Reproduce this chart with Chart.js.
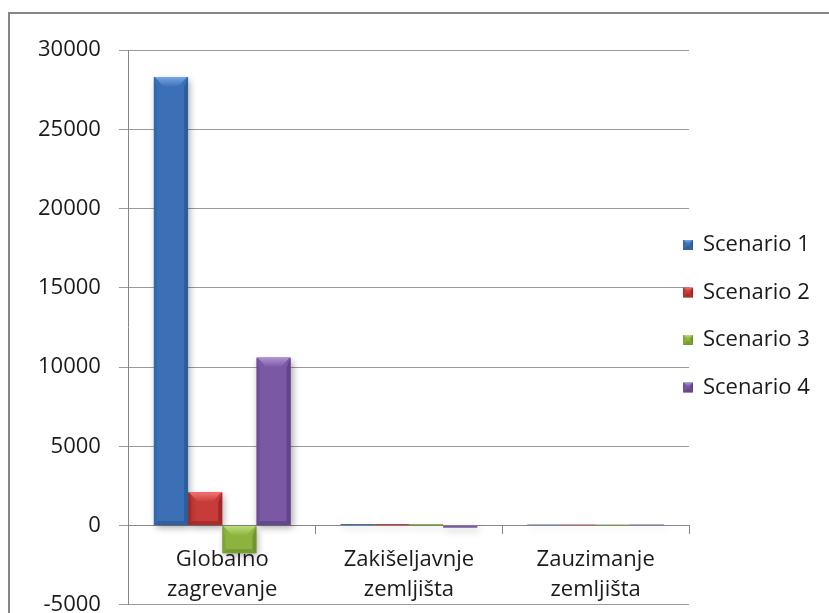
<!DOCTYPE html>
<html>
<head>
<meta charset="utf-8">
<script src="https://cdn.jsdelivr.net/npm/chart.js@4.4.1/dist/chart.umd.min.js"></script>
<style>
  html, body { margin: 0; padding: 0; background: #fff; overflow: hidden; }
  #wrap { position: relative; width: 829px; height: 613px; overflow: hidden; }
  #frame { position: absolute; left: 8px; top: 12px; width: 840px; height: 640px; border: 2px solid #868686; box-sizing: border-box; pointer-events: none; }
  #chart { position: absolute; left: 0; top: 0; }
</style>
</head>
<body>
<div id="wrap">
  <canvas id="chart" width="829" height="636"></canvas>
  <div id="frame"></div>
</div>
<script>
// kategorije i vrijednosti po scenariju
var kategorije = [['Globalno', 'zagrevanje'], ['Zakišeljavnje', 'zemljišta'], ['Zauzimanje', 'zemljišta']];
var scenarioNazivi = ['Scenario 1', 'Scenario 2', 'Scenario 3', 'Scenario 4'];
var scenario1 = [28300, 90, 60];
var scenario2 = [2100, 90, 60];
var scenario3 = [-1750, 90, 60];
var scenario4 = [10600, -140, 60];
var yMin = -5000, yMax = 30000, yKorak = 5000;

// boje: lice stupca, svijetli gornji rub, tamni rub
var boje = [
  { lice: '#3b70b7', gore: '#79a6e6', tamno: '#2a5590' },
  { lice: '#c73b38', gore: '#ee7571', tamno: '#93201e' },
  { lice: '#8bb33d', gore: '#bedb7c', tamno: '#66872a' },
  { lice: '#7a58a4', gore: '#ac93d4', tamno: '#553b7c' }
];

var font = "'Open Sans', 'Noto Sans', sans-serif";

// ukošeni rubovi (bevel) preko pravokutnika
function rubovi(ctx, l, t, r, d, b, maxS) {
  var h = d - t, w = r - l;
  if (h < 3) return;
  var s = Math.min(maxS, w / 2, h / 2);
  var sb = Math.min(4, h / 2);
  var sr = Math.min(4, w / 4);
  ctx.save();
  ctx.fillStyle = b.tamno;
  // donji rub
  ctx.globalAlpha = 0.55;
  ctx.beginPath();
  ctx.moveTo(l, d); ctx.lineTo(r, d); ctx.lineTo(r - sb, d - sb); ctx.lineTo(l + sb, d - sb);
  ctx.fill();
  // desni rub
  ctx.globalAlpha = 0.7;
  ctx.beginPath();
  ctx.moveTo(r, t); ctx.lineTo(r, d); ctx.lineTo(r - sr, d - sb); ctx.lineTo(r - sr, t + s);
  ctx.fill();
  // lijevi rub
  ctx.globalAlpha = 0.35;
  ctx.beginPath();
  ctx.moveTo(l, t); ctx.lineTo(l + sr * 0.75, t + s); ctx.lineTo(l + sr * 0.75, d - sb); ctx.lineTo(l, d);
  ctx.fill();
  // gornji svijetli rub
  ctx.globalAlpha = 1;
  var g = ctx.createLinearGradient(0, t, 0, t + s);
  g.addColorStop(0, b.gore);
  g.addColorStop(1, b.lice);
  ctx.fillStyle = g;
  ctx.beginPath();
  ctx.moveTo(l + 1, t); ctx.lineTo(r - 1, t); ctx.lineTo(r - s, t + s); ctx.lineTo(l + s, t + s);
  ctx.fill();
  ctx.restore();
}

// sjena ispod stupaca
var sjena = {
  id: 'sjena',
  beforeDatasetsDraw: function(chart) {
    var ctx = chart.ctx;
    ctx.save();
    ctx.shadowColor = 'rgba(0,0,0,0.35)';
    ctx.shadowBlur = 7;
    ctx.shadowOffsetX = 2;
    ctx.shadowOffsetY = 3;
  },
  afterDatasetsDraw: function(chart) {
    chart.ctx.restore();
  }
};

var stupciRubovi = {
  id: 'stupciRubovi',
  afterDatasetsDraw: function(chart) {
    chart.data.datasets.forEach(function(ds, i) {
      chart.getDatasetMeta(i).data.forEach(function(bar) {
        var p = bar.getProps(['x', 'y', 'base', 'width'], true);
        rubovi(chart.ctx, p.x - p.width / 2, Math.min(p.y, p.base), p.x + p.width / 2, Math.max(p.y, p.base), boje[i], 10);
      });
    });
  }
};

// legenda desno, djelomično preklapa područje grafa
var legenda = {
  id: 'legenda',
  afterDraw: function(chart) {
    var ctx = chart.ctx;
    var x = 683, y0 = 245, korak = 47.5, kv = 10;
    ctx.save();
    chart.data.datasets.forEach(function(ds, i) {
      var y = y0 + i * korak;
      ctx.fillStyle = boje[i].lice;
      ctx.fillRect(x, y - kv / 2, kv, kv);
      rubovi(ctx, x, y - kv / 2, x + kv, y + kv / 2, boje[i], 4);
      ctx.fillStyle = '#1a1a1a';
      ctx.font = '22px ' + font;
      ctx.textBaseline = 'middle';
      ctx.textAlign = 'left';
      ctx.fillText(ds.label, x + 20, y);
    });
    ctx.restore();
  }
};

var skupovi = [scenario1, scenario2, scenario3, scenario4].map(function(v, i) {
  return {
    label: scenarioNazivi[i],
    data: v,
    backgroundColor: boje[i].lice,
    borderWidth: 0,
    categoryPercentage: 0.733,
    barPercentage: 1.0
  };
});

new Chart(document.getElementById('chart'), {
  type: 'bar',
  data: { labels: kategorije, datasets: skupovi },
  options: {
    responsive: false,
    animation: false,
    layout: { padding: { left: 20, top: 50, right: 140, bottom: 0 } },
    plugins: {
      tooltip: { enabled: false },
      legend: { display: false }
    },
    scales: {
      x: {
        position: { y: 0 },
        grid: { offset: true, drawOnChartArea: false, drawTicks: true, tickLength: 8, color: '#868686' },
        border: { color: '#868686', width: 1 },
        ticks: {
          font: { family: font, size: 22, lineHeight: 1.36 },
          color: '#1a1a1a',
          padding: 11,
          maxRotation: 0,
          autoSkip: false
        }
      },
      y: {
        min: yMin,
        max: yMax,
        grid: { color: '#9a9a9a', lineWidth: 1, tickLength: 10 },
        border: { color: '#868686', width: 1 },
        ticks: {
          stepSize: yKorak,
          font: { family: font, size: 22 },
          color: '#1a1a1a',
          padding: 18,
          callback: function(v) { return String(v); }
        }
      }
    }
  },
  plugins: [sjena, stupciRubovi, legenda]
});
</script>
</body>
</html>
